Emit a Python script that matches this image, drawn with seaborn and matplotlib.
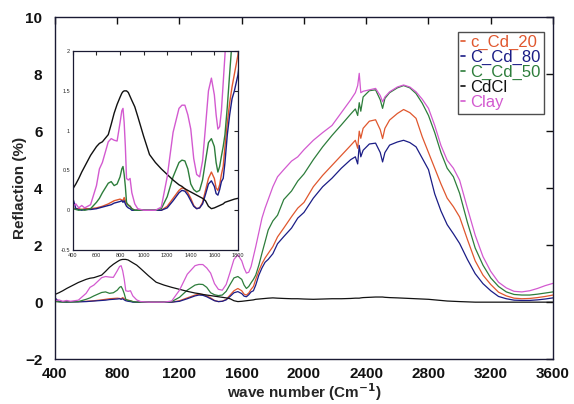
import numpy as np
import pandas as pd
import matplotlib
matplotlib.use("Agg")
import matplotlib.pyplot as plt
import seaborn as sns

wavenumber = [400, 425, 450, 475, 500, 550, 600, 625, 650, 700, 725, 750, 775, 800, 815, 825, 835, 845, 855, 870,
              885, 900, 925, 950, 1000, 1050, 1100, 1150, 1200, 1250, 1300, 1325, 1350, 1375, 1400, 1425, 1450, 1475,
              1500, 1525, 1550, 1575, 1600, 1615, 1630, 1645, 1660, 1675, 1690, 1710, 1730, 1750, 1770, 1800, 1830,
              1870, 1920, 1960, 2000, 2060, 2120, 2180, 2240, 2300, 2330, 2345, 2355, 2365, 2380, 2420, 2460, 2490,
              2505, 2520, 2550, 2600, 2640, 2680, 2720, 2760, 2800, 2840, 2880, 2920, 2960, 3000, 3050, 3100, 3150,
              3200, 3250, 3300, 3350, 3400, 3450, 3500, 3550, 3600]

c_cd_20 = [0.03, 0.02, 0.02, 0.01, 0.02, 0.02, 0.03, 0.04, 0.05, 0.08, 0.10, 0.12, 0.13, 0.14, 0.13, 0.12, 0.16, 0.12, 0.08, 0.07,
           0.05, 0.02, 0.0, 0.0, 0.0, 0.0, 0.0, 0.0, 0.05, 0.15, 0.25, 0.28, 0.27, 0.22, 0.15, 0.06, 0.02, 0.03,
           0.10, 0.25, 0.40, 0.48, 0.40, 0.28, 0.25, 0.32, 0.45, 0.55, 0.80, 1.10, 1.35, 1.55, 1.71, 1.95, 2.29,
           2.60, 3.00, 3.30, 3.50, 4.05, 4.45, 4.80, 5.15, 5.50, 5.68, 5.40, 6.00, 5.75, 6.10, 6.35, 6.40, 6.05,
           5.74, 6.10, 6.39, 6.62, 6.76, 6.65, 6.45, 5.80, 5.25, 4.70, 4.15, 3.65, 3.35, 2.99, 2.20, 1.45, 0.95,
           0.62, 0.35, 0.22, 0.14, 0.12, 0.13, 0.16, 0.20, 0.25]

c_cd_80 = [0.15, 0.02, 0.01, 0.0, 0.01, 0.01, 0.02, 0.03, 0.04, 0.06, 0.07, 0.09, 0.10, 0.11, 0.12, 0.10, 0.12, 0.08, 0.05, 0.03,
           0.02, 0.0, 0.0, 0.0, 0.0, 0.0, 0.0, 0.0, 0.03, 0.12, 0.22, 0.25, 0.24, 0.19, 0.12, 0.05, 0.02, 0.03,
           0.08, 0.20, 0.33, 0.37, 0.30, 0.21, 0.19, 0.26, 0.36, 0.40, 0.60, 0.95, 1.20, 1.40, 1.50, 1.70, 2.05,
           2.30, 2.60, 2.95, 3.15, 3.65, 4.05, 4.35, 4.70, 5.00, 5.10, 4.85, 5.50, 5.10, 5.33, 5.55, 5.58, 5.25,
           4.92, 5.25, 5.51, 5.62, 5.68, 5.60, 5.45, 5.05, 4.65, 3.80, 3.20, 2.72, 2.40, 2.06, 1.50, 1.00, 0.65,
           0.40, 0.20, 0.12, 0.07, 0.06, 0.06, 0.08, 0.11, 0.15]

c_cd_50 = [0.02, 0.01, 0.0, 0.01, 0.0, 0.02, 0.10, 0.15, 0.22, 0.34, 0.36, 0.31, 0.33, 0.42, 0.52, 0.55, 0.45, 0.30, 0.10, 0.06,
           0.05, 0.02, 0.0, 0.0, 0.0, 0.0, 0.0, 0.02, 0.17, 0.42, 0.60, 0.63, 0.62, 0.52, 0.33, 0.26, 0.23, 0.25,
           0.38, 0.62, 0.85, 0.90, 0.80, 0.60, 0.48, 0.55, 0.68, 0.80, 0.95, 1.30, 1.72, 2.12, 2.53, 2.85, 3.05,
           3.60, 3.90, 4.25, 4.50, 5.00, 5.45, 5.85, 6.22, 6.60, 6.78, 6.55, 7.00, 6.70, 7.20, 7.42, 7.45, 7.10,
           6.80, 7.15, 7.35, 7.52, 7.60, 7.52, 7.32, 6.98, 6.55, 5.95, 5.25, 4.70, 4.40, 3.82, 2.80, 1.90, 1.30,
           0.85, 0.55, 0.36, 0.27, 0.25, 0.25, 0.28, 0.32, 0.36]

cdcl = [0.27, 0.33, 0.40, 0.48, 0.55, 0.69, 0.80, 0.84, 0.86, 0.95, 1.08, 1.22, 1.33, 1.42, 1.47, 1.49, 1.50, 1.50, 1.50, 1.48,
        1.43, 1.38, 1.30, 1.18, 0.93, 0.70, 0.60, 0.52, 0.45, 0.38, 0.32, 0.30, 0.27, 0.25, 0.23, 0.21, 0.19, 0.17,
        0.15, 0.12, 0.05, 0.02, 0.03, 0.04, 0.05, 0.06, 0.07, 0.08, 0.10, 0.11, 0.12, 0.13, 0.14, 0.15, 0.14,
        0.13, 0.12, 0.12, 0.11, 0.10, 0.11, 0.12, 0.12, 0.13, 0.14, 0.14, 0.14, 0.15, 0.16, 0.17, 0.18, 0.18,
        0.18, 0.17, 0.16, 0.15, 0.14, 0.13, 0.12, 0.11, 0.10, 0.08, 0.06, 0.04, 0.03, 0.02, 0.01, 0.0, 0.0,
        0.0, 0.0, 0.0, 0.0, 0.0, 0.0, 0.0, 0.0, 0.0]

clay = [0.05, 0.08, 0.03, 0.06, 0.03, 0.07, 0.31, 0.52, 0.60, 0.86, 0.90, 0.88, 0.87, 1.10, 1.25, 1.28, 1.10, 0.80, 0.40, 0.38,
        0.40, 0.22, 0.08, 0.02, 0.0, 0.0, 0.0, 0.04, 0.42, 0.98, 1.28, 1.32, 1.32, 1.20, 1.02, 0.65, 0.45, 0.42,
        0.62, 1.05, 1.50, 1.66, 1.45, 1.20, 1.02, 1.05, 1.25, 1.60, 1.95, 2.45, 2.95, 3.30, 3.60, 4.05, 4.40,
        4.65, 4.95, 5.10, 5.35, 5.68, 5.95, 6.20, 6.65, 7.10, 7.35, 7.60, 8.03, 7.35, 7.40, 7.45, 7.50, 7.25,
        7.03, 7.20, 7.38, 7.55, 7.62, 7.55, 7.38, 7.12, 6.80, 6.20, 5.50, 4.98, 4.70, 4.28, 3.30, 2.35, 1.60,
        1.08, 0.70, 0.50, 0.38, 0.36, 0.40, 0.48, 0.58, 0.66]

series_names = ["c_Cd_20", "C_Cd_80", "C_Cd_50", "CdCl", "Clay"]
series_colors = ["#e0572e", "#1b1d86", "#2d7d3b", "#111111", "#d35ad0"]

x_ticks = [400, 800, 1200, 1600, 2000, 2400, 2800, 3200, 3600]
y_ticks = [-2, 0, 2, 4, 6, 8, 10]
inset_x_ticks = [400, 600, 800, 1000, 1200, 1400, 1600, 1800]
inset_y_ticks = [-0.5, 0, 0.5, 1, 1.5, 2]
inset_y_labels = ["-0.5", "0", "0.5", "1", "1.5", "2"]

wide = pd.DataFrame({"wavenumber": wavenumber, "c_Cd_20": c_cd_20, "C_Cd_80": c_cd_80,
                     "C_Cd_50": c_cd_50, "CdCl": cdcl, "Clay": clay})
df = wide.melt(id_vars="wavenumber", var_name="sample", value_name="refl")

sns.set_style("white")
plt.rcParams["font.family"] = ["Liberation Sans", "DejaVu Sans"]

fig = plt.figure(figsize=(5.74, 4.04), dpi=100)
ax = fig.add_axes([0.0958, 0.111, 0.8676, 0.8465])
palette = dict(zip(series_names, series_colors))

sns.lineplot(data=df, x="wavenumber", y="refl", hue="sample", hue_order=series_names,
             palette=palette, estimator=None, sort=False, linewidth=0.9, legend=False, ax=ax)
ax.set_xlim(400, 3600)
ax.set_ylim(-2, 10)
ax.set_xticks(x_ticks)
ax.set_yticks(y_ticks)
ax.tick_params(direction="in", top=True, right=True, length=5, width=1, labelsize=11, colors="#111111")
ax.tick_params(axis="x", pad=6)
ax.tick_params(axis="y", pad=9)
for lab in ax.get_xticklabels() + ax.get_yticklabels():
    lab.set_fontweight("bold")
ax.set_xlabel("wave number (Cm$^{\\mathbf{-1}}$)", fontsize=11, fontweight="bold", labelpad=0)
ax.set_ylabel("Reflaction (%)", fontsize=11, fontweight="bold", labelpad=-1)
for s in ax.spines.values():
    s.set_color("#1a1a33")
    s.set_linewidth(1.0)

handles = [plt.Line2D([], [], color=c, lw=1.2) for c in series_colors]
leg = ax.legend(handles, series_names, loc="upper right", bbox_to_anchor=(0.982, 0.958),
                borderaxespad=0, fontsize=12, handlelength=0.25, handletextpad=0.3,
                labelspacing=0.0, borderpad=0.2, frameon=True, fancybox=False)
leg.get_frame().set_edgecolor("#222222")
leg.get_frame().set_linewidth(1.0)
for t, c in zip(leg.get_texts(), series_colors):
    t.set_color(c)

axin = fig.add_axes([0.127, 0.381, 0.2875, 0.4926])
sns.lineplot(data=df, x="wavenumber", y="refl", hue="sample", hue_order=series_names,
             palette=palette, estimator=None, sort=False, linewidth=1.0, legend=False, ax=axin)
axin.set_xlim(400, 1800)
axin.set_ylim(-0.5, 2)
axin.set_xticks(inset_x_ticks)
axin.set_yticks(inset_y_ticks)
axin.set_yticklabels(inset_y_labels)
axin.tick_params(direction="in", top=True, right=True, length=3, width=0.8, labelsize=4, pad=2)
axin.set_xlabel("")
axin.set_ylabel("")
for s in axin.spines.values():
    s.set_color("#1a1a33")
    s.set_linewidth(0.9)

fig.savefig("out.png", dpi=100, facecolor="white")
